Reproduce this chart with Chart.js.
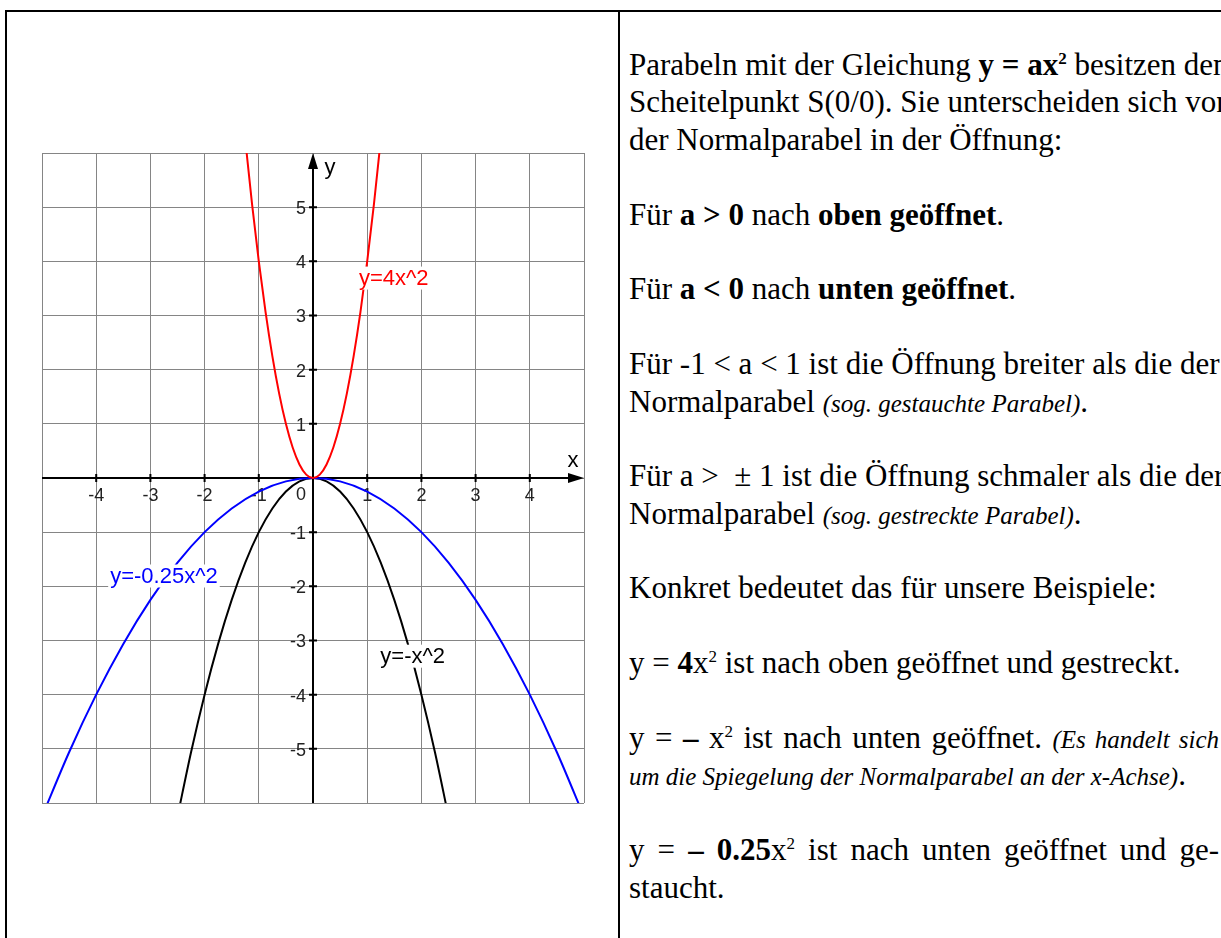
<!DOCTYPE html>
<html lang="de">
<head>
<meta charset="utf-8">
<title>Parabeln y = ax²</title>
<script src="https://cdn.jsdelivr.net/npm/chart.js@4.4.1/dist/chart.umd.min.js"></script>
<style>
  html, body { margin: 0; padding: 0; background: #fff; width: 1221px; height: 938px; overflow: hidden; }
  .tabelle { position: absolute; left: 5px; top: 10px; width: 1400px; height: 1000px;
             border-left: 2px solid #000; border-top: 2px solid #000; }
  .trenner { position: absolute; left: 618px; top: 10px; width: 2px; height: 1000px; background: #000; }
  .diagramm { position: absolute; left: 32px; top: 143px; width: 562px; height: 670px; }
  .text { position: absolute; left: 629px; top: 46px; font-family: "Liberation Serif", "Times New Roman", serif;
          font-size: 31px; line-height: 37.4px; color: #000; white-space: nowrap; }
  .text div { height: 37.4px; }
  .text i { font-size: 25px; }
  .j { width: 590px; text-align: justify; text-align-last: justify; }
  sup { font-size: 0.55em; line-height: 0; vertical-align: 0.65em; }
</style>
</head>
<body>
<div class="tabelle"></div>
<div class="trenner"></div>

<div class="diagramm"><canvas id="parabelChart"></canvas></div>

<div class="text">
  <div>Parabeln mit der Gleichung <b>y = ax<sup>2</sup></b> besitzen den</div>
  <div>Scheitelpunkt S(0/0). Sie unterscheiden sich von</div>
  <div>der Normalparabel in der Öffnung:</div>
  <div></div>
  <div>Für <b>a &gt; 0</b> nach <b>oben geöffnet</b>.</div>
  <div></div>
  <div>Für <b>a &lt; 0</b> nach <b>unten geöffnet</b>.</div>
  <div></div>
  <div>Für -1 &lt; a &lt; 1 ist die Öffnung breiter als die der</div>
  <div>Normalparabel <i>(sog. gestauchte Parabel)</i>.</div>
  <div></div>
  <div>Für a &gt; &nbsp;± 1 ist die Öffnung schmaler als die der</div>
  <div>Normalparabel <i>(sog. gestreckte Parabel)</i>.</div>
  <div></div>
  <div>Konkret bedeutet das für unsere Beispiele:</div>
  <div></div>
  <div>y = <b>4</b>x<sup>2</sup> ist nach oben geöffnet und gestreckt.</div>
  <div></div>
  <div class="j">y = <b>–</b> x<sup>2</sup> ist nach unten geöffnet. <i>(Es handelt sich</i></div>
  <div><i>um die Spiegelung der Normalparabel an der x-Achse)</i>.</div>
  <div></div>
  <div class="j">y = <b>– 0.25</b>x<sup>2</sup> ist nach unten geöffnet und ge-</div>
  <div>staucht.</div>
</div>

<script>
// Wertetabellen der drei Parabeln
const rotX = [-1.25, -1.125, -1, -0.875, -0.75, -0.625, -0.5, -0.375, -0.25, -0.125, 0,
              0.125, 0.25, 0.375, 0.5, 0.625, 0.75, 0.875, 1, 1.125, 1.25];
const rotY = [6.25, 5.0625, 4, 3.0625, 2.25, 1.5625, 1, 0.5625, 0.25, 0.0625, 0,
              0.0625, 0.25, 0.5625, 1, 1.5625, 2.25, 3.0625, 4, 5.0625, 6.25];

const schwarzX = [-2.5, -2.25, -2, -1.75, -1.5, -1.25, -1, -0.75, -0.5, -0.25, 0,
                  0.25, 0.5, 0.75, 1, 1.25, 1.5, 1.75, 2, 2.25, 2.5];
const schwarzY = [-6.25, -5.0625, -4, -3.0625, -2.25, -1.5625, -1, -0.5625, -0.25, -0.0625, 0,
                  -0.0625, -0.25, -0.5625, -1, -1.5625, -2.25, -3.0625, -4, -5.0625, -6.25];

const blauX = [-5, -4.5, -4, -3.5, -3, -2.5, -2, -1.5, -1, -0.5, 0,
               0.5, 1, 1.5, 2, 2.5, 3, 3.5, 4, 4.5, 5];
const blauY = [-6.25, -5.0625, -4, -3.0625, -2.25, -1.5625, -1, -0.5625, -0.25, -0.0625, 0,
               -0.0625, -0.25, -0.5625, -1, -1.5625, -2.25, -3.0625, -4, -5.0625, -6.25];

// Achsenbeschriftung
const xTicks = [-4, -3, -2, -1, 1, 2, 3, 4];
const xTickLabels = ['-4', '-3', '-2', '-1', '1', '2', '3', '4'];
const yTicks = [-5, -4, -3, -2, -1, 1, 2, 3, 4, 5];
const yTickLabels = ['-5', '-4', '-3', '-2', '-1', '1', '2', '3', '4', '5'];

// Funktionsnamen an den Graphen
const kurvenNamen = ['y=4x^2', 'y=-0.25x^2', 'y=-x^2'];
const kurvenFarben = ['#ff0000', '#0000ff', '#000000'];
const namePosX = [1.49, -2.75, 1.84];
const namePosY = [3.70, -1.80, -3.28];

function punkte(xs, ys) {
  return xs.map((x, i) => ({ x: x, y: ys[i] }));
}

const achsenPlugin = {
  id: 'achsen',
  beforeDatasetsDraw(chart) {
    const { ctx, chartArea, scales } = chart;
    const x0 = scales.x.getPixelForValue(0);
    const y0 = scales.y.getPixelForValue(0);

    ctx.save();
    ctx.strokeStyle = '#000';
    ctx.fillStyle = '#000';
    ctx.lineWidth = 2;

    // x-Achse mit Pfeil
    ctx.beginPath();
    ctx.moveTo(chartArea.left, y0);
    ctx.lineTo(chartArea.right - 12, y0);
    ctx.stroke();
    ctx.beginPath();
    ctx.moveTo(chartArea.right, y0);
    ctx.lineTo(chartArea.right - 16, y0 - 5);
    ctx.lineTo(chartArea.right - 16, y0 + 5);
    ctx.closePath();
    ctx.fill();

    // y-Achse mit Pfeil
    ctx.beginPath();
    ctx.moveTo(x0, chartArea.bottom);
    ctx.lineTo(x0, chartArea.top + 12);
    ctx.stroke();
    ctx.beginPath();
    ctx.moveTo(x0, chartArea.top);
    ctx.lineTo(x0 - 5, chartArea.top + 16);
    ctx.lineTo(x0 + 5, chartArea.top + 16);
    ctx.closePath();
    ctx.fill();

    // Teilstriche
    ctx.beginPath();
    xTicks.forEach(v => {
      const px = scales.x.getPixelForValue(v);
      ctx.moveTo(px, y0 - 4);
      ctx.lineTo(px, y0 + 4);
    });
    yTicks.forEach(v => {
      const py = scales.y.getPixelForValue(v);
      ctx.moveTo(x0 - 4, py);
      ctx.lineTo(x0 + 4, py);
    });
    ctx.stroke();

    // Zahlen an den Achsen
    ctx.fillStyle = '#222';
    ctx.font = '18px "Liberation Sans", Arial, sans-serif';
    ctx.textBaseline = 'middle';
    ctx.textAlign = 'center';
    xTicks.forEach((v, i) => {
      ctx.fillText(xTickLabels[i], scales.x.getPixelForValue(v), y0 + 18);
    });
    ctx.fillText('0', x0 - 12, y0 + 17);
    ctx.textAlign = 'right';
    yTicks.forEach((v, i) => {
      ctx.fillText(yTickLabels[i], x0 - 7, scales.y.getPixelForValue(v) + 2);
    });

    // Achsennamen
    ctx.fillStyle = '#000';
    ctx.font = '22px "Liberation Sans", Arial, sans-serif';
    ctx.textAlign = 'center';
    ctx.fillText('x', chartArea.right - 11, y0 - 17);
    ctx.fillText('y', x0 + 17, chartArea.top + 15);
    ctx.restore();
  },
  afterDatasetsDraw(chart) {
    const { ctx, scales } = chart;
    ctx.save();
    ctx.font = '22px "Liberation Sans", Arial, sans-serif';
    ctx.textAlign = 'center';
    ctx.textBaseline = 'middle';
    kurvenNamen.forEach((name, i) => {
      const px = scales.x.getPixelForValue(namePosX[i]);
      const py = scales.y.getPixelForValue(namePosY[i]);
      const w = ctx.measureText(name).width;
      ctx.fillStyle = '#fff';
      ctx.fillRect(px - w / 2 - 2, py - 11, w + 4, 23);
      ctx.fillStyle = kurvenFarben[i];
      ctx.fillText(name, px, py + 1);
    });
    ctx.restore();
  }
};

const gitter = {
  color: '#858585',
  lineWidth: 1,
  drawTicks: false
};

new Chart(document.getElementById('parabelChart'), {
  type: 'scatter',
  data: {
    datasets: [
      { label: kurvenNamen[0], data: punkte(rotX, rotY), borderColor: kurvenFarben[0] },
      { label: kurvenNamen[1], data: punkte(blauX, blauY), borderColor: kurvenFarben[1] },
      { label: kurvenNamen[2], data: punkte(schwarzX, schwarzY), borderColor: kurvenFarben[2] }
    ].map(ds => Object.assign(ds, {
      showLine: true,
      pointRadius: 0,
      borderWidth: 2,
      cubicInterpolationMode: 'monotone'
    }))
  },
  options: {
    responsive: true,
    maintainAspectRatio: false,
    animation: false,
    layout: { padding: 10 },
    plugins: { legend: { display: false }, tooltip: { enabled: false } },
    scales: {
      x: { type: 'linear', min: -5, max: 5, ticks: { stepSize: 1, display: false }, grid: gitter, border: { display: false } },
      y: { type: 'linear', min: -6, max: 6, ticks: { stepSize: 1, display: false }, grid: gitter, border: { display: false } }
    }
  },
  plugins: [achsenPlugin]
});
</script>
</body>
</html>
